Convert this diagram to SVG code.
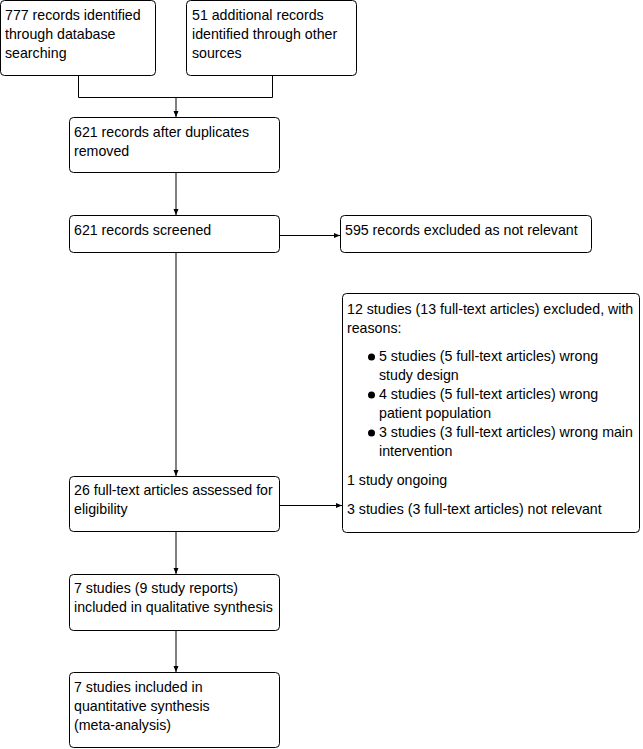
<svg xmlns="http://www.w3.org/2000/svg" width="643" height="749" viewBox="0 0 643 749">
<defs>
<marker id="ah" markerWidth="6" markerHeight="6" refX="6" refY="3" orient="auto" markerUnits="userSpaceOnUse">
<path d="M0,0.5 L6,3 L0,5.5 Z" fill="#000"/>
</marker>
<style>
rect.b{fill:#fff;stroke:#000;stroke-width:1}
text{font-family:"Liberation Sans",Arial,sans-serif;font-size:14.2px;fill:#000}
.c{fill:none;stroke:#000;stroke-width:1}
</style>
</defs>
<rect width="643" height="749" fill="#fff"/>
<g id="connectors">
<path class="c" d="M78.5,76 V97.5 H272.5 V76"/>
<path class="c" d="M176,97.5 V117" marker-end="url(#ah)"/>
<path class="c" d="M176,173 V215" marker-end="url(#ah)"/>
<path class="c" d="M280,235.5 H340" marker-end="url(#ah)"/>
<path class="c" d="M176,253 V476" marker-end="url(#ah)"/>
<path class="c" d="M280,505.5 H342" marker-end="url(#ah)"/>
<path class="c" d="M176,532 V574" marker-end="url(#ah)"/>
<path class="c" d="M176,631 V672" marker-end="url(#ah)"/>
</g>
<g id="n1"><rect class="b" x="0.5" y="0.5" width="155" height="75" rx="4"/>
<text x="5" y="20">777 records identified</text><text x="5" y="39">through database</text><text x="5" y="58">searching</text></g>
<g id="n2"><rect class="b" x="186.5" y="0.5" width="170" height="75" rx="4"/>
<text x="192" y="20">51 additional records</text><text x="192" y="39">identified through other</text><text x="192" y="58">sources</text></g>
<g id="n3"><rect class="b" x="69.5" y="117.5" width="210" height="55" rx="4"/>
<text x="74" y="137">621 records after duplicates</text><text x="74" y="156">removed</text></g>
<g id="n4"><rect class="b" x="69.5" y="215.5" width="210" height="37" rx="4"/>
<text x="74" y="235">621 records screened</text></g>
<g id="n5"><rect class="b" x="340.5" y="215.5" width="251" height="37" rx="4"/>
<text x="345" y="235">595 records excluded as not relevant</text></g>
<g id="n6"><rect class="b" x="342.5" y="293.5" width="297" height="239" rx="4"/>
<text x="347" y="314">12 studies (13 full-text articles) excluded, with</text>
<text x="347" y="333">reasons:</text>
<circle cx="371.5" cy="357" r="3.5" fill="#000"/>
<text x="379" y="361">5 studies (5 full-text articles) wrong</text>
<text x="379" y="380">study design</text>
<circle cx="371.5" cy="395" r="3.5" fill="#000"/>
<text x="379" y="399">4 studies (5 full-text articles) wrong</text>
<text x="379" y="418">patient population</text>
<circle cx="371.5" cy="433" r="3.5" fill="#000"/>
<text x="379" y="437">3 studies (3 full-text articles) wrong main</text>
<text x="379" y="456">intervention</text>
<text x="347" y="485">1 study ongoing</text>
<text x="347" y="514">3 studies (3 full-text articles) not relevant</text></g>
<g id="n7"><rect class="b" x="69.5" y="476.5" width="210" height="55" rx="4"/>
<text x="74" y="495">26 full-text articles assessed for</text><text x="74" y="514">eligibility</text></g>
<g id="n8"><rect class="b" x="69.5" y="574.5" width="210" height="56" rx="4"/>
<text x="74" y="593">7 studies (9 study reports)</text><text x="74" y="612">included in qualitative synthesis</text></g>
<g id="n9"><rect class="b" x="69.5" y="672.5" width="210" height="75" rx="4"/>
<text x="74" y="692">7 studies included in</text><text x="74" y="711">quantitative synthesis</text><text x="74" y="730">(meta-analysis)</text></g>
</svg>
